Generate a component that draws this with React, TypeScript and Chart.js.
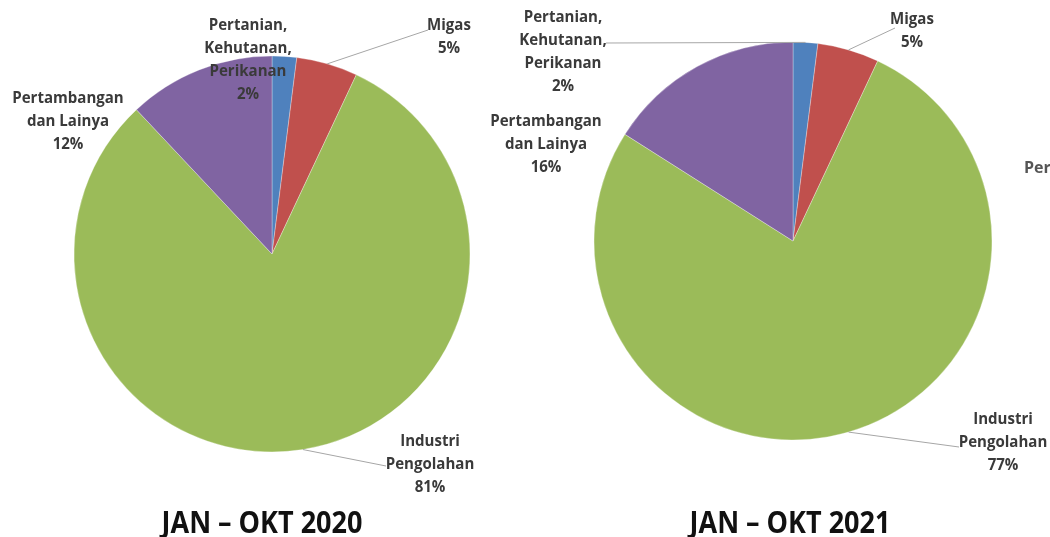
import React, { useEffect, useRef } from "react";
import { Chart, registerables } from "chart.js";

Chart.register(...registerables);

const categories = [
  "Pertanian, Kehutanan, Perikanan",
  "Migas",
  "Industri Pengolahan",
  "Pertambangan dan Lainya",
];
const labelLines = [
  ["Pertanian,", "Kehutanan,", "Perikanan"],
  ["Migas"],
  ["Industri", "Pengolahan"],
  ["Pertambangan", "dan Lainya"],
];
const values2020 = [2, 5, 81, 12];
const values2021 = [2, 5, 77, 16];
const titles = ["JAN – OKT 2020", "JAN – OKT 2021"];
const partialLabel = "Pertambangan";
const colors = ["#4F81BD", "#C0504D", "#9BBB59", "#8064A2"];

// layout (styles) for each chart
const layouts = [
  {
    cx: 272,
    cy: 254,
    r: 198,
    title: { x: 262, y: 524 },
    labels: [
      { x: 248, y: 25, line: null },
      { x: 449, y: 25, line: { x: 428, y: 30 } },
      { x: 430, y: 441, line: { x: 386, y: 466 } },
      { x: 68, y: 98, line: null },
    ],
    extra: null,
  },
  {
    cx: 793,
    cy: 241,
    r: 199,
    title: { x: 790, y: 524 },
    labels: [
      { x: 563, y: 17, line: { x: 606, y: 43 } },
      { x: 912, y: 19, line: { x: 895, y: 28 } },
      { x: 1003, y: 419, line: { x: 959, y: 447 } },
      { x: 546, y: 121, line: null },
    ],
    extra: { x: 1024, y: 168 },
  },
];

const W = 1050;
const H = 537;

function makePlugin(li: number) {
  return {
    id: "customLabels" + li,
    afterDraw(chart: any) {
      const L = layouts[li];
      const ctx = chart.ctx;
      const meta = chart.getDatasetMeta(0);
      const data = chart.data.datasets[0].data as number[];
      ctx.save();
      // leader lines
      meta.data.forEach((arc: any, i: number) => {
        const lab = L.labels[i];
        if (!lab.line) return;
        const p = arc.getProps(["x", "y", "startAngle", "endAngle", "outerRadius"], true);
        const mid = (p.startAngle + p.endAngle) / 2;
        const ax = p.x + Math.cos(mid) * p.outerRadius;
        const ay = p.y + Math.sin(mid) * p.outerRadius;
        ctx.beginPath();
        ctx.strokeStyle = "#a6a6a6";
        ctx.lineWidth = 1;
        ctx.moveTo(ax, ay);
        ctx.lineTo(lab.line.x, lab.line.y);
        ctx.stroke();
      });
      // labels
      ctx.font = 'bold 16px "Open Sans"';
      ctx.fillStyle = "#3a3a3a";
      ctx.textAlign = "center";
      ctx.textBaseline = "middle";
      meta.data.forEach((arc: any, i: number) => {
        const lab = L.labels[i];
        const lines = [...labelLines[i], data[i] + "%"];
        lines.forEach((t, k) => {
          ctx.save();
          ctx.translate(lab.x, lab.y + k * 23);
          ctx.scale(0.94, 1);
          ctx.fillText(t, 0, 0);
          ctx.restore();
        });
      });
      if (L.extra) {
        ctx.save();
        ctx.textAlign = "left";
        ctx.fillStyle = "#555555";
        ctx.translate(L.extra.x, L.extra.y);
        ctx.fillText(partialLabel, 0, 0);
        ctx.restore();
      }
      // title
      ctx.fillStyle = "#111111";
      ctx.font = 'bold 30px "Open Sans"';
      ctx.textAlign = "center";
      ctx.textBaseline = "middle";
      ctx.translate(L.title.x, L.title.y);
      ctx.scale(0.9, 1);
      ctx.fillText(titles[li], 0, 0);
      ctx.restore();
    },
  };
}

function PieCanvas({ idx, values }: { idx: number; values: number[] }) {
  const ref = useRef<HTMLCanvasElement | null>(null);
  useEffect(() => {
    if (!ref.current) return;
    const L = layouts[idx];
    const chart = new Chart(ref.current, {
      type: "pie",
      data: {
        labels: categories,
        datasets: [
          {
            data: values,
            backgroundColor: colors,
            borderColor: "rgba(255,255,255,0.6)",
            borderWidth: 0.5,
            hoverOffset: 0,
          },
        ],
      },
      options: {
        animation: false,
        responsive: false,
        maintainAspectRatio: false,
        radius: L.r,
        layout: {
          padding: {
            left: L.cx - 200,
            right: W - (L.cx + 200),
            top: L.cy - 200,
            bottom: H - (L.cy + 200),
          },
        },
        plugins: {
          legend: { display: false },
          tooltip: { enabled: false },
          title: { display: false },
        },
      } as any,
      plugins: [makePlugin(idx)],
    });
    return () => chart.destroy();
  }, [idx, values]);
  return (
    <canvas
      ref={ref}
      width={W}
      height={H}
      style={{ position: "absolute", left: 0, top: 0, width: W, height: H }}
    />
  );
}

export default function App() {
  return (
    <div
      style={{
        position: "fixed",
        left: 0,
        top: 0,
        width: W,
        height: H,
        background: "#ffffff",
        overflow: "hidden",
      }}
    >
      <PieCanvas idx={0} values={values2020} />
      <PieCanvas idx={1} values={values2021} />
    </div>
  );
}
